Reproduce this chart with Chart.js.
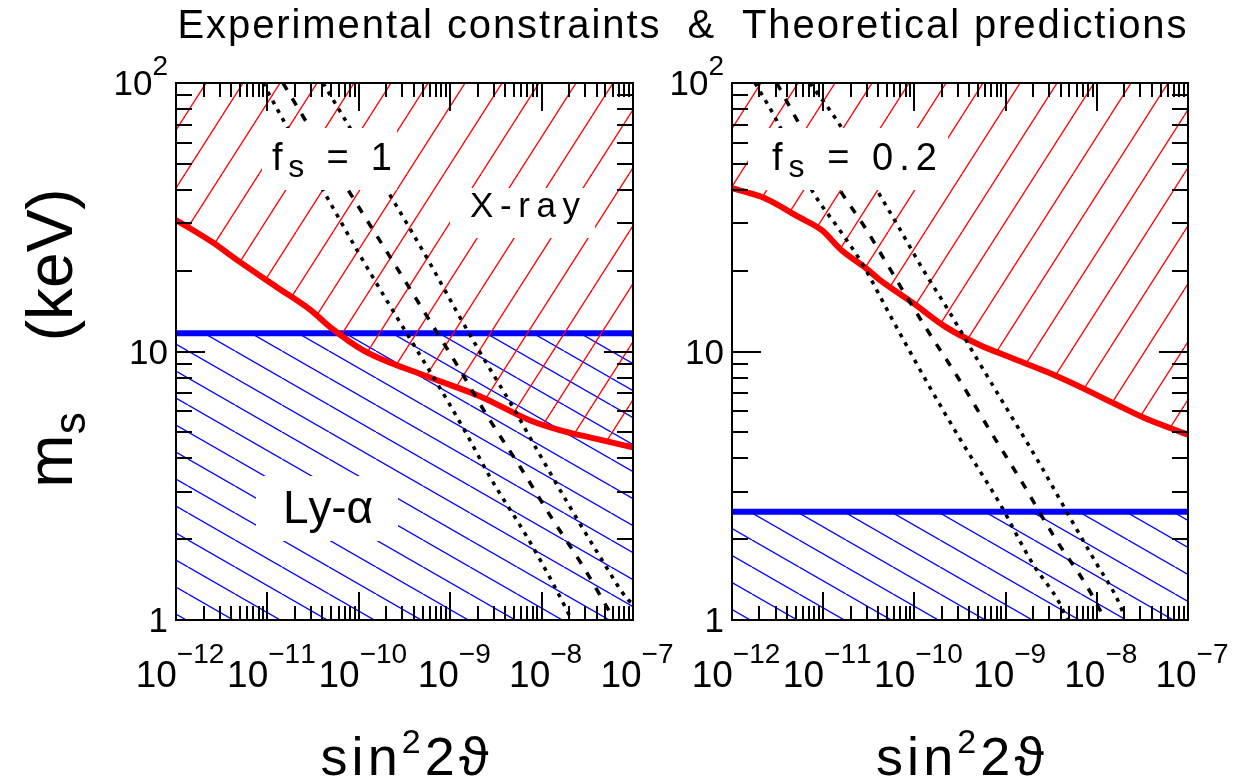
<!DOCTYPE html>
<html>
<head>
<meta charset="utf-8">
<script src="https://cdn.jsdelivr.net/npm/chart.js@4.4.1/dist/chart.umd.min.js"></script>
<style>
  html, body { margin: 0; padding: 0; background: #fff; }
  #wrap { position: relative; width: 1234px; height: 783px; overflow: hidden; }
  #wrap canvas { position: absolute; left: 0; top: 0; }
</style>
</head>
<body>
<div id="wrap">
  <canvas id="left" width="1234" height="783"></canvas>
  <canvas id="right" width="1234" height="783"></canvas>
</div>
<script>
// axis ranges and tick labels
const xMin = 1e-12, xMax = 1e-7, yMin = 1, yMax = 100;
const xTickValues = [1e-12, 1e-11, 1e-10, 1e-9, 1e-8, 1e-7];
const xTickSups = ['\u221212', '\u221211', '\u221210', '\u22129', '\u22128', '\u22127'];
const yTickValues = [1, 10, 100];
const yTickBase = ['1', '10', '10'];
const yTickSups = ['', '', '2'];

// left panel (f_s = 1)
const xrayLeftX = [1e-12, 2.51e-12, 4.68e-12, 1.26e-11, 2.95e-11, 4.9e-11, 1.12e-10, 6.03e-10, 2.14e-9, 7.41e-9, 1.58e-8, 3.63e-8, 8.51e-8, 1e-7];
const xrayLeftY = [30.9, 25.5, 21.9, 17.4, 14.3, 12.3, 10.1, 8.0, 6.8, 5.55, 5.1, 4.76, 4.45, 4.4];
const lyaLeft = 11.7;
const dotLoLeftX = [8.95e-12, 1.64e-11, 4.06e-11, 9.8e-11, 2.09e-10, 4.12e-10, 9.23e-10, 1.53e-9, 2.72e-9, 6.92e-9, 1.33e-8, 2.14e-8];
const dotLoLeftY = [100, 68.6, 39.9, 23.5, 15.2, 10.4, 6.6, 4.89, 3.41, 2.04, 1.37, 1.0];
const dashLeftX = [1.48e-11, 2.71e-11, 8.02e-11, 2.31e-10, 5.3e-10, 1.19e-9, 2.59e-9, 5.81e-9, 1.33e-8, 2.99e-8, 6.04e-8];
const dashLeftY = [100, 71, 38.9, 21.9, 13.9, 8.9, 5.7, 3.72, 2.36, 1.54, 1.02];
const dotHiLeftX = [4.06e-11, 7.43e-11, 2.04e-10, 5.57e-10, 1.19e-9, 2.29e-9, 4.86e-9, 8.91e-9, 1.9e-8, 4.36e-8, 8.81e-8, 1e-7];
const dotHiLeftY = [100, 71, 39.9, 22.3, 14.0, 9.5, 6.2, 4.3, 2.75, 1.72, 1.19, 1.15];

// right panel (f_s = 0.2)
const xrayRightX = [1e-12, 2.29e-12, 5.37e-12, 9.66e-12, 1.58e-11, 2.85e-11, 4.17e-11, 9.55e-11, 2.24e-10, 5.13e-10, 1.17e-9, 2.82e-9, 6.46e-9, 1.55e-8, 3.55e-8, 8.51e-8, 1e-7];
const xrayRightY = [40.6, 37.2, 31.7, 28.3, 23.9, 20.6, 18.5, 15.2, 12.3, 10.6, 9.46, 8.4, 7.4, 6.4, 5.6, 5.0, 4.9];
const lyaRight = 2.53;
const dotLoRightX = [1.79e-12, 2.95e-12, 7.5e-12, 1.6e-11, 2.64e-11, 5.77e-11, 1.47e-10, 3.37e-10, 8.55e-10, 1.96e-9, 3.88e-9, 4.74e-9];
const dotLoRightY = [100, 74.7, 39.9, 27.6, 21.4, 13.1, 7.38, 4.56, 2.73, 1.63, 1.16, 1.0];
const dashRightX = [3.1e-12, 5.55e-12, 1.6e-11, 2.85e-11, 4.72e-11, 8.22e-11, 1.39e-10, 3.12e-10, 7.0e-10, 1.53e-9, 3.42e-9, 7.85e-9, 1.24e-8];
const dashRightY = [100, 69.8, 38.9, 29.1, 21.9, 16.0, 12.0, 7.83, 4.97, 3.24, 2.04, 1.33, 1.0];
const dotHiRightX = [7.13e-12, 1.52e-11, 4.06e-11, 6.71e-11, 1.2e-10, 2.43e-10, 5.16e-10, 1.1e-9, 2.47e-9, 5.25e-9, 9.84e-9, 1.63e-8, 2.0e-8];
const dotHiRightY = [100, 69.8, 38.9, 29.1, 20.6, 14.0, 9.06, 5.9, 3.72, 2.36, 1.63, 1.22, 1.04];

const FONT = '"Liberation Sans", "DejaVu Sans", sans-serif';

const pts = (xs, ys) => xs.map((x, i) => ({ x, y: ys[i] }));
const isMajor = v => Math.abs(Math.log10(v) - Math.round(Math.log10(v))) < 1e-6;
const isWhole = v => {
  const m = v / Math.pow(10, Math.floor(Math.log10(v) + 1e-9));
  return Math.abs(m - Math.round(m)) < 1e-6;
};

// hatch pattern: dir 1 = '/', dir -1 = '\'
function hatch(ctx, color, w, h, dir) {
  const c = document.createElement('canvas');
  c.width = w; c.height = h;
  const g = c.getContext('2d');
  g.strokeStyle = color;
  g.lineWidth = 1.3;
  for (const dx of [-w, 0, w]) {
    g.beginPath();
    if (dir > 0) { g.moveTo(dx, h); g.lineTo(dx + w, 0); }
    else { g.moveTo(dx, 0); g.lineTo(dx + w, h); }
    g.stroke();
  }
  return ctx.createPattern(c, 'repeat');
}

// draw text pieces [text, size, dy], optionally stretched to a target width
function drawParts(ctx, parts, x, y, align, target) {
  let natural = 0, n = 0;
  parts.forEach(([t, size]) => {
    ctx.font = size + 'px ' + FONT;
    for (const ch of t) { natural += ctx.measureText(ch).width; n++; }
  });
  const sp = target ? (target - natural) / Math.max(n - 1, 1) : 0;
  const total = natural + sp * (n - 1);
  let cx = align === 'center' ? x - total / 2 : align === 'right' ? x - total : x;
  ctx.textAlign = 'left';
  ctx.textBaseline = 'alphabetic';
  parts.forEach(([t, size, dy]) => {
    ctx.font = size + 'px ' + FONT;
    for (const ch of t) {
      ctx.fillText(ch, cx, y + (dy || 0));
      cx += ctx.measureText(ch).width + sp;
    }
  });
}

const decorations = {
  id: 'decorations',
  afterDatasetsDraw(chart, args, opts) {
    const { ctx, chartArea: a, scales: { x, y } } = chart;
    ctx.save();
    // panel labels on white boxes
    opts.labels.forEach(l => {
      ctx.fillStyle = '#fff';
      ctx.fillRect(l.box[0], l.box[1], l.box[2] - l.box[0], l.box[3] - l.box[1]);
      ctx.fillStyle = '#000';
      drawParts(ctx, l.parts, l.x, l.y, 'left', l.width);
    });
    // frame and ticks on all four sides
    ctx.strokeStyle = '#000';
    ctx.lineWidth = 2;
    ctx.strokeRect(a.left, a.top, a.right - a.left, a.bottom - a.top);
    ctx.beginPath();
    x.ticks.forEach(t => {
      if (!isWhole(t.value)) return;
      const len = isMajor(t.value) ? 28 : 14;
      const px = Math.round(x.getPixelForValue(t.value));
      ctx.moveTo(px, a.bottom); ctx.lineTo(px, a.bottom - len);
      ctx.moveTo(px, a.top); ctx.lineTo(px, a.top + len);
    });
    y.ticks.forEach(t => {
      if (!isWhole(t.value)) return;
      const len = isMajor(t.value) ? 29 : 16;
      const py = Math.round(y.getPixelForValue(t.value));
      ctx.moveTo(a.left, py); ctx.lineTo(a.left + len, py);
      ctx.moveTo(a.right, py); ctx.lineTo(a.right - len, py);
    });
    ctx.stroke();
    // tick labels
    ctx.fillStyle = '#000';
    xTickValues.forEach((v, i) => {
      drawParts(ctx, [['10', 37, 0], [xTickSups[i], 28, -24]], x.getPixelForValue(v) + 4, a.bottom + 67, 'center');
    });
    yTickValues.forEach((v, i) => {
      const parts = [[yTickBase[i], 35, 0]];
      if (yTickSups[i]) parts.push([yTickSups[i], 28, -20]);
      drawParts(ctx, parts, a.left - 8, y.getPixelForValue(v) + 12, 'right');
    });
    // x axis title
    drawParts(ctx, [['sin', 54, 0], ['2', 34, -22], ['2\u03d1', 54, 0]], (a.left + a.right) / 2, 775, 'center', 168);
    if (opts.figure) {
      drawParts(ctx, [['Experimental constraints  &  Theoretical predictions', 40, 0]], 682, 38, 'center', 1009);
      ctx.translate(72, 338);
      ctx.rotate(-Math.PI / 2);
      drawParts(ctx, [['m', 64, 0], ['s', 44, 13], ['    (keV)', 64, 0]], 0, 0, 'center');
    }
    ctx.restore();
  }
};

function panel(id, padLeft, padRight, xrayX, xrayY, lya, lines, labels, figure) {
  const canvas = document.getElementById(id);
  const ctx = canvas.getContext('2d');
  const thin = { pointRadius: 0, fill: false, borderColor: '#000', borderWidth: 3.5, order: 1, cubicInterpolationMode: 'monotone' };
  return new Chart(ctx, {
    type: 'line',
    data: {
      datasets: [
        { ...thin, data: pts(lines[0], lines[1]), borderDash: [4, 6] },
        { ...thin, data: pts(lines[2], lines[3]), borderDash: [8, 10] },
        { ...thin, data: pts(lines[4], lines[5]), borderDash: [4, 6] },
        {
          data: pts(xrayX, xrayY), borderColor: '#ff0000', borderWidth: 6, pointRadius: 0,
          cubicInterpolationMode: 'monotone',
          backgroundColor: hatch(ctx, '#ff0000', 37, 58, 1), fill: 'end', order: 2
        },
        {
          data: [{ x: xMin, y: lya }, { x: xMax, y: lya }], borderColor: '#0000ff', borderWidth: 6, pointRadius: 0,
          backgroundColor: hatch(ctx, '#0000ff', 47, 27, -1), fill: 'start', order: 3
        }
      ]
    },
    options: {
      responsive: false,
      animation: false,
      events: [],
      layout: { padding: { left: padLeft, right: padRight, top: 83, bottom: 163 } },
      scales: {
        x: {
          type: 'logarithmic', min: xMin, max: xMax,
          grid: { display: false, drawTicks: false }, border: { display: false },
          ticks: { display: false, major: { enabled: true } }
        },
        y: {
          type: 'logarithmic', min: yMin, max: yMax,
          grid: { display: false, drawTicks: false }, border: { display: false },
          ticks: { display: false, major: { enabled: true } }
        }
      },
      plugins: {
        legend: { display: false },
        tooltip: { enabled: false },
        decorations: { labels, figure }
      }
    },
    plugins: [decorations]
  });
}

panel('left', 176, 601, xrayLeftX, xrayLeftY, lyaLeft,
  [dotLoLeftX, dotLoLeftY, dashLeftX, dashLeftY, dotHiLeftX, dotHiLeftY],
  [
    { box: [262, 128, 397, 190], parts: [['f', 38, 0], ['s', 32, 7], [' = 1', 38, 0]], x: 272, y: 170, width: 120 },
    { box: [450, 188, 595, 238], parts: [['X-ray', 35, 0]], x: 470, y: 217, width: 110 },
    { box: [256, 476, 398, 541], parts: [['Ly-\u03b1', 46, 0]], x: 283, y: 523, width: 90 }
  ], true);

panel('right', 732, 46, xrayRightX, xrayRightY, lyaRight,
  [dotLoRightX, dotLoRightY, dashRightX, dashRightY, dotHiRightX, dotHiRightY],
  [
    { box: [748, 128, 948, 190], parts: [['f', 38, 0], ['s', 32, 7], [' = 0.2', 38, 0]], x: 772, y: 170, width: 165 }
  ], false);
</script>
</body>
</html>
